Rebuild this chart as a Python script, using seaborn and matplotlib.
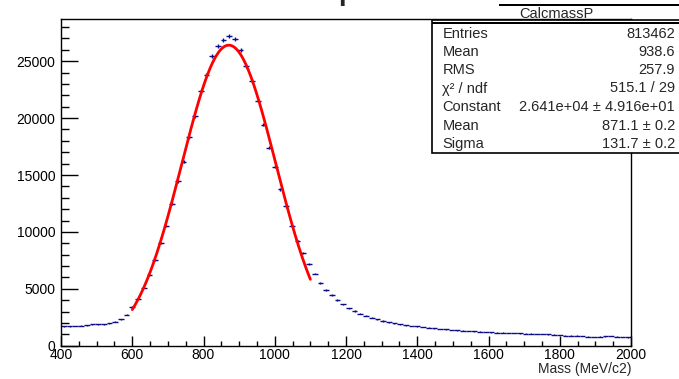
import numpy as np
import pandas as pd
import matplotlib
matplotlib.use("Agg")
import matplotlib.pyplot as plt
from matplotlib.patches import Rectangle
import seaborn as sns

# === histogram data (CalcmassP), 100 bins from 400 to 2000 MeV/c2 ===
bin_edges = np.linspace(400, 2000, 101)
counts = [
    1700, 1700, 1730, 1760, 1815, 1875, 1875, 1900, 1960, 2110,
    2315, 2725, 3430, 4130, 5100, 6240, 7530, 9000, 10520, 12480,
    14450, 16170, 18340, 20160, 22410, 23790, 25460, 26340, 26870, 27190,
    26960, 25960, 24580, 23260, 21540, 19430, 17400, 15730, 13740, 12250,
    10490, 9230, 8120, 7150, 6340, 5510, 4900, 4450, 4000, 3630,
    3280, 3050, 2810, 2640, 2460, 2310, 2170, 2080, 1990, 1875,
    1790, 1730, 1700, 1640, 1580, 1520, 1465, 1435, 1380, 1350,
    1320, 1290, 1260, 1230, 1200, 1170, 1140, 1140, 1110, 1110,
    1085, 1055, 1055, 1025, 1025, 1000, 965, 940, 880, 880,
    880, 850, 790, 760, 790, 820, 850, 790, 760, 730,
]

# gaussian fit parameters (from stats box)
fit_const = 2.641e4
fit_mean = 871.1
fit_sigma = 131.7
fit_range = (600, 1100)

stat_labels = ["Entries", "Mean", "RMS", "χ² / ndf", "Constant", "Mean", "Sigma"]
stat_values = ["813462", "938.6", "257.9", "515.1 / 29",
               "2.641e+04 ± 4.916e+01", "871.1 ± 0.2", "131.7 ± 0.2"]

df = pd.DataFrame({
    "mass": (bin_edges[:-1] + bin_edges[1:]) / 2,
    "counts": counts,
})
df["err"] = np.sqrt(df["counts"])

x_fit = np.linspace(fit_range[0], fit_range[1], 300)
fit_df = pd.DataFrame({
    "mass": x_fit,
    "gaus": fit_const * np.exp(-0.5 * ((x_fit - fit_mean) / fit_sigma) ** 2),
})

# === figure ===
sns.set_style("ticks")
plt.rcParams["font.family"] = ["Liberation Sans", "DejaVu Sans"]

W, H = 679, 379
fig = plt.figure(figsize=(W / 100, H / 100), dpi=100)
ax = fig.add_axes([61 / W, 1 - 345.7 / H, 570 / W, 326.7 / H])

def px(x, y):
    return x / W, 1 - y / H

navy = "#0c0c8a"
ax.errorbar(df["mass"], df["counts"], xerr=8, yerr=df["err"], fmt="none",
            ecolor=navy, elinewidth=1.0, capsize=0)
sns.lineplot(data=fit_df, x="mass", y="gaus", color="#ff0000", linewidth=2.0, ax=ax)

ax.set_xlim(400, 2000)
ax.set_ylim(0, 28710)
ax.set_xticks(range(400, 2001, 200))
ax.set_xticks(range(400, 2001, 50), minor=True)
ax.set_yticks(range(0, 25001, 5000))
ax.set_yticks(range(0, 28001, 1000), minor=True)
ax.tick_params(axis="both", which="both", direction="in", labelsize=10,
               colors="black", top=False, right=False)
ax.tick_params(axis="x", which="major", length=7, width=1, pad=1.5)
ax.tick_params(axis="x", which="minor", length=3.3, width=1)
ax.tick_params(axis="y", which="major", length=12, width=1, pad=4)
ax.tick_params(axis="y", which="minor", length=6, width=1)
for s in ax.spines.values():
    s.set_linewidth(1.0)
    s.set_color("black")
ax.set_xlabel("")
ax.set_ylabel("")

fig.text(*px(631, 369), "Mass (MeV/c2)", ha="right", va="center", fontsize=10)

# cropped title (only descender visible)
fig.text(*px(338, 0), "p", ha="left", va="baseline", fontsize=20,
         fontweight="bold")

# === stats box ===
def fig_rect(x, y, w, h, **kw):
    # rectangle given in figure pixels (top-left origin)
    fig.add_artist(Rectangle(px(x, y + h), w / W, h / H,
                             transform=fig.transFigure, **kw))

fig_rect(431.7, 20, W + 5 - 431.7, 133, facecolor="white",
         edgecolor="black", linewidth=1.2, zorder=5)
fig_rect(431.7, 22.5, W - 431.7, 1.2, facecolor="black", edgecolor="none",
         zorder=6)
fig_rect(499, 4.5, W - 499, 1.2, facecolor="black", edgecolor="none",
         zorder=6)
fig.text(*px(556, 14.5), "CalcmassP", ha="center", va="center", fontsize=10.5,
         zorder=7)
row_y = [33.5, 52, 70, 88.5, 107, 125.5, 144]
for lab, val, y in zip(stat_labels, stat_values, row_y):
    fig.text(*px(442.5, y), lab, ha="left", va="center", fontsize=10.5, zorder=7)
    fig.text(*px(675, y), val, ha="right", va="center", fontsize=10.5, zorder=7)

fig.savefig("out.png", dpi=100)
